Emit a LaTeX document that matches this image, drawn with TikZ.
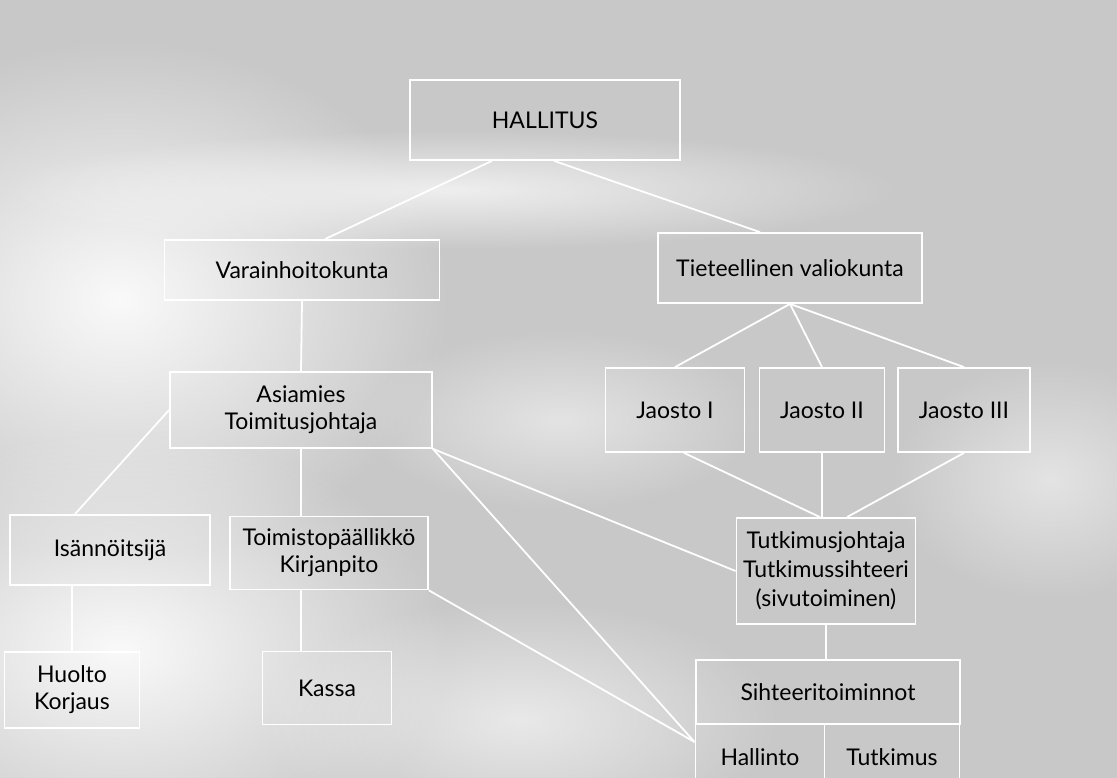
\documentclass[tikz,border=0pt]{standalone}
\usepackage{fontspec}
\setmainfont{Lato}
\usetikzlibrary{fadings}
\tikzfading[name=blob, inner color=transparent!0, outer color=transparent!100]
\definecolor{bg}{RGB}{200,200,200}
\begin{document}
\begin{tikzpicture}[x=1pt,y=-1pt,
  box/.style={draw=white, line width=1.8pt, align=center, inner sep=0pt, text=black,
    font=\fontsize{23}{27}\selectfont},
  conn/.style={draw=white, line width=1.8pt},
]
\useasboundingbox (0,0) rectangle (1117,778);
\begin{scope}
\clip (0,0) rectangle (1117,778);
\fill[bg] (0,0) rectangle (1117,778);
\fill[white, path fading=blob, opacity=0.9] (120,300) ellipse (330pt and 260pt);
\fill[white, path fading=blob, opacity=0.9] (120,650) ellipse (330pt and 220pt);
\fill[white, path fading=blob, opacity=0.7] (450,190) ellipse (450pt and 60pt);
\fill[white, path fading=blob, opacity=0.6] (520,720) ellipse (260pt and 120pt);
\fill[white, path fading=blob, opacity=0.5] (1050,480) ellipse (160pt and 120pt);
\fill[white, path fading=blob, opacity=0.5] (560,420) ellipse (200pt and 90pt);

% nodes
\node[box, minimum width=270pt, minimum height=80pt] (hall) at (545,120) {HALLITUS};
\node[box, minimum width=275pt, minimum height=60pt] (varain) at (302,270) {Varainhoitokunta};
\node[box, minimum width=264pt, minimum height=70pt] (tiet) at (790,268) {Tieteellinen valiokunta};
\node[box, minimum width=262pt, minimum height=76pt] (asia) at (301,410) {Asiamies\\Toimitusjohtaja};
\node[box, minimum width=200pt, minimum height=70pt] (isann) at (110,550) {Isännöitsijä};
\node[box, minimum width=198pt, minimum height=73pt] (toim) at (329,553) {Toimistopäällikkö\\Kirjanpito};
\node[box, minimum width=135pt, minimum height=76pt] (huolto) at (72,690) {Huolto\\Korjaus};
\node[box, minimum width=129pt, minimum height=73pt] (kassa) at (327,688) {Kassa};
\node[box, minimum width=139pt, minimum height=84pt] (j1) at (675,410) {Jaosto I};
\node[box, minimum width=125pt, minimum height=84pt] (j2) at (822,410) {Jaosto II};
\node[box, minimum width=132pt, minimum height=84pt] (j3) at (964,410) {Jaosto III};
\node[box, minimum width=179pt, minimum height=106pt, font=\fontsize{23}{29}\selectfont] (tutk) at (826,571) {Tutkimusjohtaja\\Tutkimussihteeri\\(sivutoiminen)};
\node[box, minimum width=264pt, minimum height=64pt] (siht) at (828,692) {Sihteeritoiminnot};
\node[box, minimum width=129pt, minimum height=66pt] (hallinto) at (760,757) {Hallinto};
\node[box, minimum width=135pt, minimum height=66pt] (tutkimus) at (892,757) {Tutkimus};

% connectors
\draw[conn] ([xshift=-53pt]hall.south) -- ([xshift=23pt]varain.north);
\draw[conn] ([xshift=9pt]hall.south) -- ([xshift=-30pt]tiet.north);
\draw[conn] (tiet.south) -- (j1.north);
\draw[conn] (tiet.south) -- (j2.north);
\draw[conn] (tiet.south) -- (j3.north);
\draw[conn] ([xshift=9pt]j1.south) -- ([xshift=-6pt]tutk.north);
\draw[conn] (j2.south) -- (j2.south |- tutk.north);
\draw[conn] (j3.south) -- ([xshift=21pt]tutk.north);
\draw[conn] (tutk.south) -- (tutk.south |- siht.north);
\draw[conn] (varain.south) -- (asia.north);
\draw[conn] (asia.south) -- (asia.south |- toim.north);
\draw[conn] (asia.south |- toim.south) -- (asia.south |- kassa.north);
\draw[conn] (huolto.north) -- (huolto.north |- isann.south);
\draw[conn] ([xshift=-35pt]isann.north) -- (asia.west);
\draw[conn] (asia.south east) -- (tutk.west);
\draw[conn] (asia.south east) -- ([yshift=15pt]hallinto.west);
\draw[conn] (toim.south east) -- ([yshift=15pt]hallinto.west);
\end{scope}
\end{tikzpicture}
\end{document}
